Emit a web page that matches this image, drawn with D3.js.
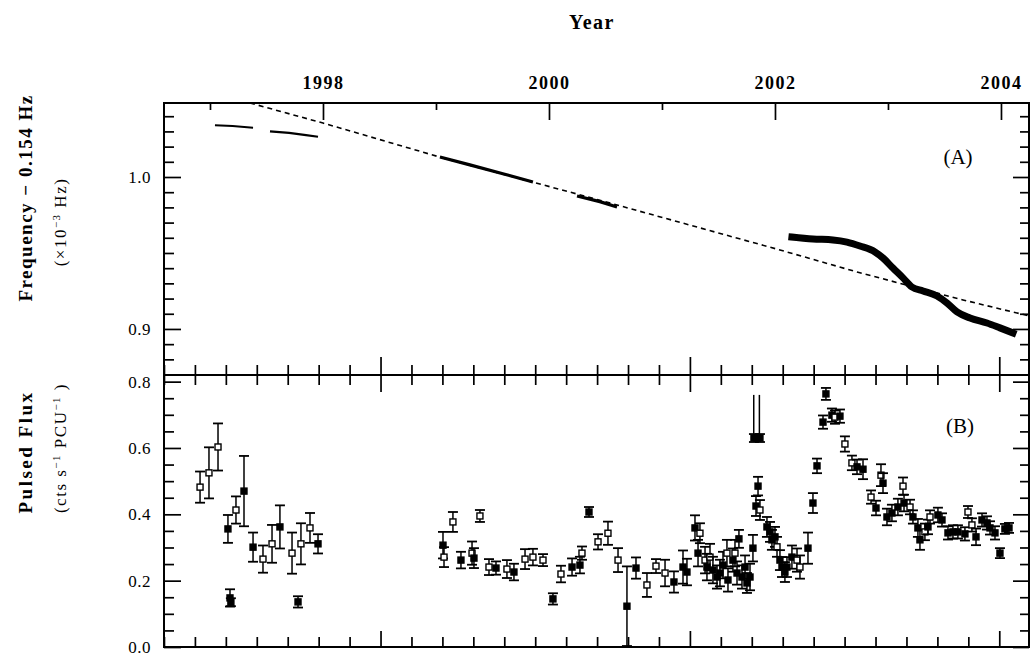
<!DOCTYPE html>
<html><head><meta charset="utf-8">
<script src="https://cdn.jsdelivr.net/npm/d3@7"></script>
<style>body{margin:0;background:#fff}</style></head>
<body><svg id="c" width="1030" height="663"></svg>
<script>
// ---------- tick labels ----------
const yearMajor = [1998, 2000, 2002, 2004];
const yearMinor = [1997, 1999, 2001, 2003];
const yearLabels = ["1998", "2000", "2002", "2004"];
const mjdMajor = [51000, 52000, 53000];
const mjdMinor = [50300,50400,50500,50600,50700,50800,50900,51100,51200,51300,51400,51500,51600,51700,51800,51900,
                  52100,52200,52300,52400,52500,52600,52700,52800,52900,53100];
const freqMajor = [0.9, 1.0];
const freqMinor = [0.87,0.88,0.89,0.91,0.92,0.93,0.94,0.95,0.96,0.97,0.98,0.99,1.01,1.02,1.03,1.04];
const fluxMajor = [0.0, 0.2, 0.4, 0.6, 0.8];
const fluxMinor = [0.05,0.1,0.15,0.25,0.3,0.35,0.45,0.5,0.55,0.65,0.7,0.75];

// ---------- panel A : frequency (year, freq - 0.154 Hz in 1e-3 Hz) ----------
const fitLine = [[1997.354,1.0487],[1998.0,1.0355],[1999.062,1.0125],[2000.363,0.9865],
                 [2002.044,0.9520],[2002.726,0.9375],[2003.664,0.9191],[2004.248,0.9086]];
const segEarly1 = [[1997.044,1.0340],[1997.20,1.0336],[1997.381,1.0324]];
const segEarly2 = [[1997.531,1.0300],[1997.70,1.0290],[1997.85,1.0276],[1997.956,1.0265]];
const segMid1 = [[1999.035,1.0132],[1999.30,1.0080],[1999.60,1.0020],[1999.858,0.9967]];
const segMid2 = [[2000.248,0.9875],[2000.45,0.9838],[2000.602,0.9803]];
const segLate = [[2002.150,0.9605],[2002.336,0.9592],[2002.513,0.9586],[2002.637,0.9572],[2002.752,0.9546],
                 [2002.885,0.9507],[2002.956,0.9467],[2003.044,0.9401],[2003.133,0.9336],[2003.212,0.9276],
                 [2003.310,0.9250],[2003.434,0.9217],[2003.522,0.9171],[2003.611,0.9112],[2003.726,0.9072],
                 [2003.876,0.9039],[2003.991,0.9007],[2004.106,0.8974]];

// ---------- panel B : pulsed flux ----------
const fluxYear = [1996.912,1996.991,1997.071,1997.159,1997.177,1997.185,1997.230,1997.301,1997.381,1997.469,
  1997.549,1997.619,1997.726,1997.779,1997.805,1997.885,1997.956,
  1999.062,1999.071,1999.150,1999.221,1999.319,1999.336,1999.389,1999.469,1999.531,1999.628,1999.690,
  1999.788,1999.858,1999.947,2000.035,2000.106,2000.204,2000.274,2000.292,2000.354,2000.434,2000.522,
  2000.611,2000.690,2000.770,2000.867,2000.947,2001.027,2001.106,2001.186,2001.221,2001.292,2001.319,
  2001.336,2001.381,2001.398,2001.425,2001.451,2001.487,2001.513,2001.540,2001.575,2001.584,2001.628,
  2001.646,2001.664,2001.681,2001.708,2001.735,2001.752,2001.779,2001.805,2001.814,2001.867,2001.850,
  2001.832,2001.867,2001.929,2001.956,2001.973,2002.000,2002.018,2002.044,2002.062,2002.088,2002.106,
  2002.150,2002.195,2002.221,2002.292,2002.336,2002.372,2002.425,2002.451,2002.504,2002.531,2002.575,
  2002.619,2002.681,2002.726,2002.779,2002.850,2002.894,2002.938,2002.956,2002.991,2003.035,2003.088,
  2003.133,2003.142,2003.195,2003.221,2003.265,2003.283,2003.327,2003.354,2003.372,2003.442,2003.478,
  2003.531,2003.575,2003.619,2003.681,2003.708,2003.743,2003.779,2003.832,2003.876,2003.903,2003.947,
  2003.991,2004.035,2004.071];
const fluxValue = [0.482,0.525,0.603,0.356,0.148,0.135,0.413,0.470,0.301,0.265,
  0.311,0.362,0.283,0.136,0.311,0.359,0.311,
  0.307,0.271,0.377,0.262,0.283,0.268,0.395,0.241,0.238,0.235,0.226,
  0.265,0.271,0.262,0.145,0.220,0.241,0.247,0.283,0.407,0.317,0.343,
  0.262,0.123,0.238,0.187,0.244,0.223,0.196,0.241,0.226,0.359,0.283,
  0.343,0.262,0.241,0.271,0.232,0.211,0.223,0.247,0.283,0.202,0.262,
  0.283,0.223,0.326,0.211,0.241,0.193,0.211,0.298,0.630,0.630,0.485,
  0.425,0.413,0.362,0.347,0.323,0.332,0.302,0.262,0.241,0.226,0.241,
  0.271,0.262,0.241,0.298,0.434,0.546,0.678,0.763,0.699,0.693,0.696,
  0.612,0.555,0.543,0.536,0.452,0.419,0.518,0.494,0.392,0.404,0.422,
  0.485,0.434,0.422,0.392,0.359,0.323,0.347,0.362,0.392,0.398,0.383,
  0.344,0.347,0.347,0.341,0.407,0.368,0.332,0.383,0.374,0.359,0.344,
  0.283,0.356,0.359];
const fluxErr = [0.047,0.077,0.071,0.042,0.026,0.012,0.041,0.106,0.044,0.041,
  0.057,0.065,0.062,0.017,0.062,0.045,0.029,
  0.040,0.030,0.030,0.025,0.035,0.030,0.018,0.024,0.020,0.027,0.025,
  0.030,0.025,0.018,0.017,0.025,0.026,0.025,0.020,0.015,0.023,0.035,
  0.036,0.120,0.032,0.036,0.021,0.040,0.032,0.050,0.040,0.038,0.040,
  0.030,0.040,0.040,0.040,0.040,0.035,0.040,0.040,0.040,0.035,0.035,
  0.040,0.035,0.027,0.035,0.035,0.030,0.040,0.040,0.012,0.012,0.028,
  0.030,0.030,0.030,0.030,0.030,0.030,0.030,0.030,0.030,0.030,0.030,
  0.035,0.035,0.035,0.047,0.030,0.022,0.020,0.018,0.020,0.020,0.020,
  0.023,0.022,0.022,0.030,0.020,0.022,0.033,0.030,0.025,0.025,0.025,
  0.026,0.025,0.022,0.020,0.027,0.030,0.025,0.022,0.020,0.022,0.020,
  0.020,0.020,0.020,0.020,0.018,0.020,0.025,0.020,0.020,0.020,0.020,
  0.015,0.015,0.015];
const fluxFilled = [0,0,0,1,1,1,0,1,1,0,
  0,1,0,1,0,0,1,
  1,0,0,1,0,1,0,0,1,0,1,
  0,0,0,1,0,1,1,0,1,0,0,
  0,1,1,0,0,0,1,1,1,1,1,
  0,0,1,0,1,1,1,1,0,1,1,
  0,1,1,1,1,1,1,1,1,1,1,
  1,0,1,1,1,1,0,1,1,1,1,
  1,0,0,1,1,1,1,1,1,0,1,
  0,0,1,1,0,1,0,1,1,1,1,
  0,1,0,1,1,1,0,1,0,1,1,
  1,1,1,1,0,0,1,1,1,1,1,
  1,1,1];
// glitch arrows (year, flux top, flux bottom)
const arrowYear = [2001.812, 2001.862];
const arrowTop = 0.76, arrowBottom = 0.64;

// ---------- layout ----------
const L = 164, R = 1029, T = 103, M = 375, B = 647;
const svg = d3.select("#c");
const x = d3.scaleLinear().domain([1996.593, 2004.248]).range([L, R]);
const yA = d3.scaleLinear().domain([0.8697, 1.0487]).range([M, T]);
const yB = d3.scaleLinear().domain([0, 0.82]).range([B, M]);

const defs = svg.append("defs");
defs.append("clipPath").attr("id","clipA").append("rect").attr("x",L).attr("y",T).attr("width",R-L).attr("height",M-T);
defs.append("clipPath").attr("id","clipB").append("rect").attr("x",L).attr("y",M).attr("width",R-L).attr("height",B-M);

function tickGroup(axisFn, scale, values, size, tx, ty) {
  const g = svg.append("g").attr("transform", `translate(${tx},${ty})`)
    .call(axisFn(scale).tickValues(values).tickSize(size).tickSizeOuter(0).tickFormat(""));
  g.select(".domain").remove();
  g.selectAll("line").attr("stroke", "#000").attr("stroke-width", 1.7);
  return g;
}
// year ticks on top
tickGroup(d3.axisBottom, x, yearMinor, 7, 0, T);
tickGroup(d3.axisBottom, x, yearMajor, 17, 0, T);
// MJD ticks
const mjdX = d3.scaleLinear().domain(x.domain().map(v => (v - 2000) * 365.25 + 51544.5)).range([L, R]);
tickGroup(d3.axisTop, mjdX, mjdMinor, 10, 0, M);
tickGroup(d3.axisTop, mjdX, mjdMajor, 18, 0, M);
tickGroup(d3.axisBottom, mjdX, mjdMinor, 10, 0, M);
tickGroup(d3.axisBottom, mjdX, mjdMajor, 17, 0, M);
tickGroup(d3.axisTop, mjdX, mjdMinor, 10, 0, B);
tickGroup(d3.axisTop, mjdX, mjdMajor, 16, 0, B);
// y ticks
tickGroup(d3.axisRight, yA, freqMinor, 10, L, 0);
tickGroup(d3.axisRight, yA, freqMajor, 17, L, 0);
tickGroup(d3.axisLeft, yA, freqMinor, 9, R, 0);
tickGroup(d3.axisLeft, yA, freqMajor, 16, R, 0);
tickGroup(d3.axisRight, yB, fluxMinor, 10, L, 0);
tickGroup(d3.axisRight, yB, fluxMajor, 17, L, 0);
tickGroup(d3.axisLeft, yB, fluxMinor, 9, R, 0);
tickGroup(d3.axisLeft, yB, fluxMajor, 16, R, 0);

// tick labels
const labFont = "'Liberation Serif', serif";
function labelAxis(axisFn, scale, values, fmt, tx, ty, pad) {
  const g = svg.append("g").attr("transform", `translate(${tx},${ty})`)
    .call(axisFn(scale).tickValues(values).tickSize(0).tickPadding(pad).tickFormat(fmt));
  g.select(".domain").remove();
  g.selectAll("text").attr("font-family", labFont).attr("font-size", 17).attr("letter-spacing", 0.5).attr("fill", "#000");
  return g;
}
const gy = svg.append("g").attr("transform", `translate(0,${T - 14})`)
  .call(d3.axisTop(x).tickValues(yearMajor).tickSize(0).tickPadding(0).tickFormat((d,i) => yearLabels[i]));
gy.select(".domain").remove();
gy.selectAll("text").attr("font-family", labFont).attr("font-weight", "bold").attr("font-size", 18)
  .attr("letter-spacing", 1.5).attr("fill", "#000");
labelAxis(d3.axisLeft, yA, freqMajor, d3.format(".1f"), L, 0, 13);
labelAxis(d3.axisLeft, yB, fluxMajor, d3.format(".1f"), L, 0, 13);

// frame
svg.append("rect").attr("x", L).attr("y", T).attr("width", R - L).attr("height", B - T)
  .attr("fill", "none").attr("stroke", "#000").attr("stroke-width", 2);
svg.append("line").attr("x1", L).attr("x2", R).attr("y1", M).attr("y2", M).attr("stroke", "#000").attr("stroke-width", 2);

// ---------- panel A marks ----------
const gA = svg.append("g").attr("clip-path", "url(#clipA)");
const lineA = d3.line().x(d => x(d[0])).y(d => yA(d[1]));
const lineSmooth = d3.line().x(d => x(d[0])).y(d => yA(d[1])).curve(d3.curveMonotoneX);
gA.append("path").attr("d", lineA(fitLine)).attr("fill", "none").attr("stroke", "#000")
  .attr("stroke-width", 1.6).attr("stroke-dasharray", "5,4");
[[segEarly1, 2], [segEarly2, 2.2], [segMid1, 3.2], [segMid2, 3.2]].forEach(([s, w]) => {
  gA.append("path").attr("d", lineA(s)).attr("fill", "none").attr("stroke", "#000")
    .attr("stroke-width", w).attr("stroke-linecap", "butt");
});
gA.append("path").attr("d", lineSmooth(segLate)).attr("fill", "none").attr("stroke", "#000")
  .attr("stroke-width", 7).attr("stroke-linecap", "square").attr("stroke-linejoin", "round");

// ---------- panel B marks ----------
const gB = svg.append("g").attr("clip-path", "url(#clipB)");
const pts = fluxYear.map((yr, i) => ({yr, v: fluxValue[i], e: fluxErr[i], f: fluxFilled[i]}));
const eb = gB.selectAll("g.pt").data(pts).join("g").attr("class", "pt");
eb.append("line").attr("x1", d => x(d.yr)).attr("x2", d => x(d.yr))
  .attr("y1", d => yB(d.v - d.e)).attr("y2", d => yB(d.v + d.e)).attr("stroke", "#000").attr("stroke-width", 1.5);
eb.append("line").attr("x1", d => x(d.yr) - 5).attr("x2", d => x(d.yr) + 5)
  .attr("y1", d => yB(d.v - d.e)).attr("y2", d => yB(d.v - d.e)).attr("stroke", "#000").attr("stroke-width", 1.8);
eb.append("line").attr("x1", d => x(d.yr) - 5).attr("x2", d => x(d.yr) + 5)
  .attr("y1", d => yB(d.v + d.e)).attr("y2", d => yB(d.v + d.e)).attr("stroke", "#000").attr("stroke-width", 1.8);
eb.append("rect").attr("x", d => x(d.yr) - 3).attr("y", d => yB(d.v) - 3).attr("width", 6).attr("height", 6)
  .attr("fill", d => d.f ? "#000" : "#fff").attr("stroke", "#000").attr("stroke-width", 1.4);
arrowYear.forEach(a => {
  gB.append("line").attr("x1", x(a)).attr("x2", x(a)).attr("y1", yB(arrowTop)).attr("y2", yB(arrowBottom))
    .attr("stroke", "#000").attr("stroke-width", 1.5);
});

// ---------- texts ----------
const tf = "'Liberation Serif', serif";
svg.append("text").attr("x", 592).attr("y", 29).attr("text-anchor", "middle").attr("font-family", tf)
  .attr("font-weight", "bold").attr("font-size", 20).attr("letter-spacing", 1.5).text("Year");
svg.append("text").attr("x", 958).attr("y", 164).attr("text-anchor", "middle").attr("font-family", tf)
  .attr("font-size", 21).text("(A)");
svg.append("text").attr("x", 960).attr("y", 433).attr("text-anchor", "middle").attr("font-family", tf)
  .attr("font-size", 21).text("(B)");
function vtext(cx, cy, size, weight, ls, content) {
  const t = svg.append("text").attr("transform", `translate(${cx},${cy}) rotate(-90)`)
    .attr("text-anchor", "middle").attr("font-family", tf).attr("font-size", size)
    .attr("font-weight", weight).attr("letter-spacing", ls);
  content(t);
}
vtext(32, 198, 19, "bold", 1.5, t => t.text("Frequency − 0.154 Hz"));
vtext(66, 222, 17, "normal", 1.5, t => {
  t.append("tspan").text("(×10");
  t.append("tspan").attr("dy", -6).attr("font-size", 11).text("−3");
  t.append("tspan").attr("dy", 6).text(" Hz)");
});
vtext(32, 452, 19, "bold", 2.5, t => t.text("Pulsed Flux"));
vtext(66, 448, 17, "normal", 1.5, t => {
  t.append("tspan").text("(cts s");
  t.append("tspan").attr("dy", -6).attr("font-size", 11).text("−1");
  t.append("tspan").attr("dy", 6).text(" PCU");
  t.append("tspan").attr("dy", -6).attr("font-size", 11).text("−1");
  t.append("tspan").attr("dy", 6).text(" )");
});
</script></body></html>
